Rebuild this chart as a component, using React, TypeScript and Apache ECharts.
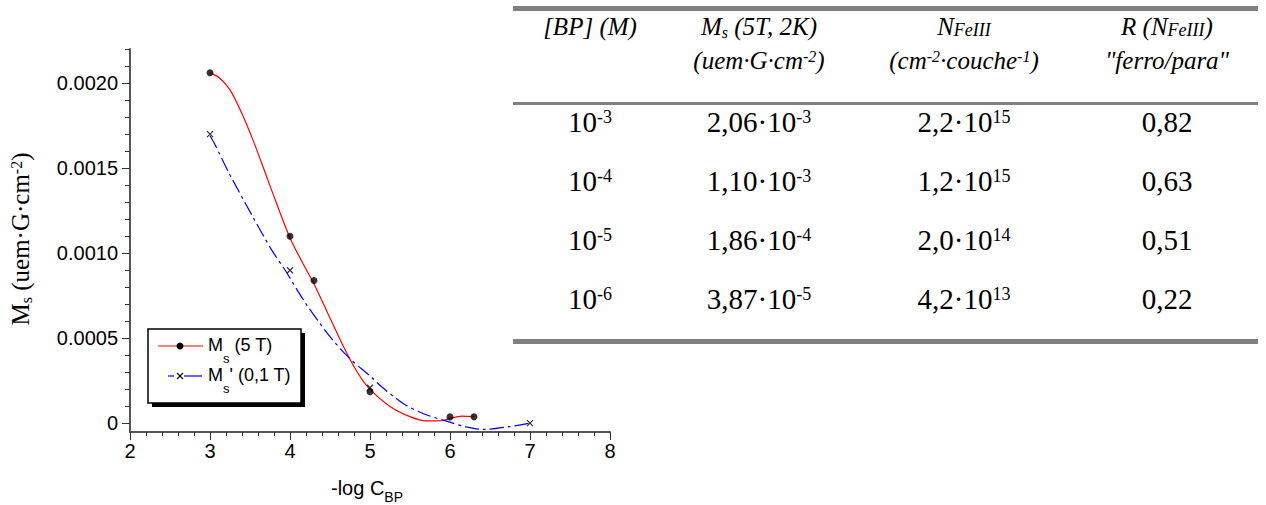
import React, { useEffect, useRef } from 'react';
import * as echarts from 'echarts';

// ---- measured points ----
const msX = [3, 4, 4.3, 5, 6, 6.3];
const msY = [0.00206, 0.0011, 0.00084, 0.000186, 0.0000387, 0.00004];
const msPrimeX = [3, 4, 5, 7];
const msPrimeY = [0.0017, 0.0009, 0.00021, 0.000002];

// ---- curves ----
const msCurveX = [3.0, 3.12, 3.25, 3.4, 3.55, 3.7, 3.85, 4.0, 4.15, 4.3, 4.46, 4.65, 4.83, 5.0, 5.25, 5.5, 5.7, 5.9, 6.0, 6.15, 6.3];
const msCurveY = [0.00206, 0.00203, 0.00196, 0.00182, 0.00165, 0.00146, 0.00127, 0.00109, 0.00095, 0.00082, 0.00066, 0.00047, 0.00031, 0.0002, 0.0001, 0.00004, 0.000015, 0.000016, 0.00003, 0.000043, 0.00004];
const msPrimeCurveX = [3.0, 3.06, 3.25, 3.54, 3.77, 3.94, 4.19, 4.5, 4.75, 5.0, 5.15, 5.42, 5.67, 6.0, 6.2, 6.42, 6.75, 7.0];
const msPrimeCurveY = [0.00169, 0.00164, 0.00146, 0.00121, 0.00102, 0.0009, 0.00071, 0.00051, 0.00038, 0.00028, 0.000214, 0.000116, 0.000057, 0.0000076, -0.00002, -0.000035, -0.000018, 0.000002];

// ---- axes ----
const xTicksMin = 2;
const xTicksMax = 8;
const yMajorTicks = [0, 0.0005, 0.001, 0.0015, 0.002];
const yTickLabels = ['0', '0.0005', '0.0010', '0.0015', '0.0020'];
const yMinorTicks = [0.0001, 0.0002, 0.0003, 0.0004, 0.0006, 0.0007, 0.0008, 0.0009, 0.0011, 0.0012, 0.0013, 0.0014, 0.0016, 0.0017, 0.0018, 0.0019, 0.0021, 0.0022];

// ---- table ----
const concExp = ['-3', '-4', '-5', '-6'];
const msMantissa = ['2,06', '1,10', '1,86', '3,87'];
const msExp = ['-3', '-3', '-4', '-5'];
const nMantissa = ['2,2', '1,2', '2,0', '4,2'];
const nExp = ['15', '15', '14', '13'];
const rValues = ['0,82', '0,63', '0,51', '0,22'];
const headerLine1 = ['{m|[BP] (M)}', '{m|M}{sub|s}{m| (5T, 2K)}', '{m|N}{subL|FeIII}', '{m|R (N}{subL|FeIII}{m|)}'];
const headerLine2 = ['', '{m|(uem·G·cm}{sup|-2}{m|)}', '{m|(cm}{sup|-2}{m|·couche}{sup|-1}{m|)}', '{m|"ferro/para"}'];

const SERIF = "'Liberation Serif', 'Times New Roman', serif";
const SANS = "'Liberation Sans', Arial, sans-serif";

function richSet(F: number, family: string, italic: boolean, subPad: number, subScale = 0.62, subLScale = 0.72) {
  const fontStyle = italic ? 'italic' : 'normal';
  const L = Math.round(F * 1.2);
  const sf = Math.round(F * subScale);
  const Ls = Math.round(sf * 1.2);
  const LsUp = Math.round(sf * 0.85);
  const sfL = Math.round(F * subLScale);
  const LsL = Math.round(sfL * 1.2);
  const base = { fontFamily: family, fontStyle, fill: '#000', verticalAlign: 'top' };
  return {
    m: { ...base, fontSize: F, lineHeight: L },
    sup: { ...base, fontSize: sf, lineHeight: LsUp, padding: [0, 0, 0, 0] },
    sub: { ...base, fontSize: sf, lineHeight: Ls, padding: [subPad, 0, 0, 0] },
    subL: { ...base, fontSize: sfL, lineHeight: LsL, padding: [Math.round(F * 0.29), 0, 0, 0] },
  };
}

const colCenters = [590, 759, 964, 1167];
const rowCenters = [125, 184, 243, 302];
const headerY = [29, 63];

function buildGraphic() {
  const els: any[] = [];
  const dataRich = richSet(29, SERIF, false, 12);
  const headRich = richSet(25, SERIF, true, 10);
  // rules
  els.push({ type: 'rect', shape: { x: 513, y: 6, width: 745, height: 5 }, style: { fill: '#808080' } });
  els.push({ type: 'rect', shape: { x: 513, y: 102, width: 745, height: 3 }, style: { fill: '#808080' } });
  els.push({ type: 'rect', shape: { x: 513, y: 339, width: 745, height: 5 }, style: { fill: '#808080' } });
  // header
  for (let c = 0; c < 4; c++) {
    els.push({ type: 'text', x: colCenters[c], y: headerY[0], style: { text: headerLine1[c], rich: headRich, align: 'center', verticalAlign: 'middle' } });
    if (headerLine2[c]) {
      els.push({ type: 'text', x: colCenters[c], y: headerY[1], style: { text: headerLine2[c], rich: headRich, align: 'center', verticalAlign: 'middle' } });
    }
  }
  // rows
  for (let r = 0; r < 4; r++) {
    const cells = [
      `{m|10}{sup|${concExp[r]}}`,
      `{m|${msMantissa[r]}·10}{sup|${msExp[r]}}`,
      `{m|${nMantissa[r]}·10}{sup|${nExp[r]}}`,
      `{m|${rValues[r]}}`,
    ];
    for (let c = 0; c < 4; c++) {
      els.push({ type: 'text', x: colCenters[c], y: rowCenters[r], style: { text: cells[c], rich: dataRich, align: 'center', verticalAlign: 'middle' } });
    }
  }
  // y axis name
  els.push({
    type: 'text', x: 23, y: 239, rotation: Math.PI / 2,
    style: { text: '{m|M}{sub|s}{m| (uem·G·cm}{sup|-2}{m|)}', rich: richSet(25, SERIF, false, 10), align: 'center', verticalAlign: 'middle' },
  });
  // x axis name
  const xr = richSet(20, SANS, false, 12, 0.7);
  els.push({ type: 'text', x: 331, y: 478, style: { text: '{m|-log C}{sub|BP}', rich: xr, align: 'left', verticalAlign: 'top' } });
  // legend
  els.push({ type: 'rect', shape: { x: 152, y: 333, width: 153, height: 74 }, style: { fill: '#000' } });
  els.push({ type: 'rect', shape: { x: 148, y: 329, width: 153, height: 74 }, style: { fill: '#fff', stroke: '#000', lineWidth: 1.5 } });
  els.push({ type: 'line', shape: { x1: 158, y1: 346, x2: 203, y2: 346 }, style: { stroke: '#ff0000', lineWidth: 1.2 } });
  els.push({ type: 'circle', shape: { cx: 180, cy: 346, r: 3.5 }, style: { fill: '#000' } });
  els.push({ type: 'line', shape: { x1: 168, y1: 376, x2: 174, y2: 376 }, style: { stroke: '#0000ff', lineWidth: 1.2 } });
  els.push({ type: 'line', shape: { x1: 184, y1: 376, x2: 202, y2: 376 }, style: { stroke: '#0000ff', lineWidth: 1.2 } });
  els.push({ type: 'line', shape: { x1: 177, y1: 373, x2: 183, y2: 379 }, style: { stroke: '#000', lineWidth: 1.1 } });
  els.push({ type: 'line', shape: { x1: 183, y1: 373, x2: 177, y2: 379 }, style: { stroke: '#000', lineWidth: 1.1 } });
  const lr = richSet(18, SANS, false, 16, 0.72);
  els.push({ type: 'text', x: 208, y: 336, style: { text: '{m|M}{sub|s}{m| (5 T)}', rich: lr, align: 'left', verticalAlign: 'top' } });
  els.push({ type: 'text', x: 208, y: 366, style: { text: "{m|M}{sub|s}{m|' (0,1 T)}", rich: lr, align: 'left', verticalAlign: 'top' } });
  return els;
}

function yLabel(v: number) {
  const i = yMajorTicks.findIndex((t) => Math.abs(t - v) < 1e-9);
  return i >= 0 ? yTickLabels[i] : '';
}

export default function App() {
  const ref = useRef<HTMLDivElement>(null);
  useEffect(() => {
    const chart = echarts.init(ref.current as HTMLDivElement, null, { renderer: 'svg' });
    const axisLineStyle = { color: '#555', width: 2 };
    const tickStyle = { color: '#333', width: 1 };
    const option: any = {
      animation: false,
      backgroundColor: '#fff',
      grid: { left: 130, top: 49, width: 480, height: 383 },
      xAxis: {
        type: 'value', min: xTicksMin, max: xTicksMax, interval: 1,
        axisLine: { show: true, onZero: false, lineStyle: axisLineStyle },
        axisTick: { show: true, length: 8, lineStyle: tickStyle },
        minorTick: { show: true, splitNumber: 5, length: 4, lineStyle: tickStyle },
        splitLine: { show: false },
        axisLabel: { fontSize: 20, fontFamily: SANS, color: '#000', margin: 9 },
      },
      yAxis: [
        {
          type: 'value', min: -0.00005, max: 0.0022,
          axisLine: { show: true, onZero: false, lineStyle: axisLineStyle },
          axisTick: { show: true, length: 8, lineStyle: tickStyle, customValues: yMajorTicks },
          axisLabel: { fontSize: 20, fontFamily: SANS, color: '#000', margin: 12, customValues: yMajorTicks, formatter: yLabel },
          splitLine: { show: false },
        },
        {
          type: 'value', min: -0.00005, max: 0.0022, position: 'left',
          axisLine: { show: false },
          axisTick: { show: true, length: 5, lineStyle: tickStyle, customValues: yMinorTicks },
          axisLabel: { show: false },
          splitLine: { show: false },
        },
      ],
      series: [
        {
          type: 'line', data: msCurveX.map((x, i) => [x, msCurveY[i]]), smooth: 0.3, symbol: 'none',
          lineStyle: { color: '#ff0000', width: 1.2 }, z: 2,
        },
        {
          type: 'line', data: msPrimeCurveX.map((x, i) => [x, msPrimeCurveY[i]]), smooth: 0.3, symbol: 'none',
          lineStyle: { color: '#0000ff', width: 1.2, type: [14, 4, 3, 4] }, z: 2,
        },
        {
          type: 'scatter', data: msX.map((x, i) => [x, msY[i]]), symbol: 'circle', symbolSize: 7,
          itemStyle: { color: '#000' }, z: 3,
        },
        {
          type: 'scatter', data: msPrimeX.map((x, i) => [x, msPrimeY[i]]), symbol: 'path://M0,0L10,10M10,0L0,10', symbolSize: 6,
          itemStyle: { color: 'transparent', borderColor: '#000', borderWidth: 1.2 }, z: 3,
        },
      ],
      graphic: { elements: buildGraphic() },
    };
    chart.setOption(option);
    return () => chart.dispose();
  }, []);
  return <div ref={ref} style={{ position: 'fixed', left: 0, top: 0, width: 1266, height: 505, background: '#fff' }} />;
}
